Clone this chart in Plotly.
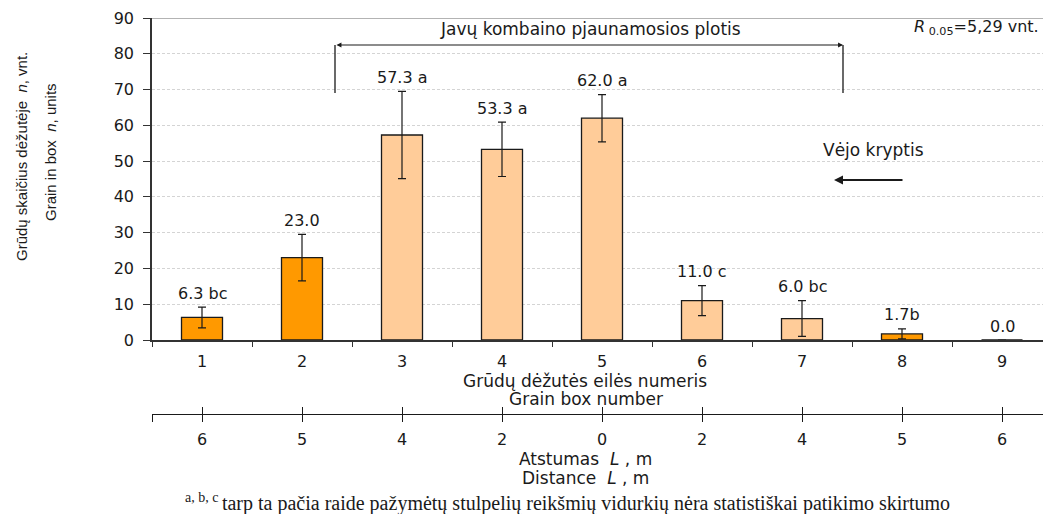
import plotly.graph_objects as go

# ---------------- data ----------------
boxes = ["1", "2", "3", "4", "5", "6", "7", "8", "9"]
grain_counts = [6.3, 23.0, 57.3, 53.3, 62.0, 11.0, 6.0, 1.7, 0.0]
errors = [2.9, 6.5, 12.2, 7.6, 6.6, 4.2, 5.0, 1.4, 0.0]
value_labels = ["6.3 bc", "23.0", "57.3 a", "53.3 a", "62.0 a", "11.0 c", "6.0 bc", "1.7b", "0.0"]
distances = ["6", "5", "4", "2", "0", "2", "4", "5", "6"]
bar_colors = ["#FF9900", "#FF9900", "#FFCC99", "#FFCC99", "#FFCC99",
              "#FFCC99", "#FFCC99", "#FF9900", "#FFCC99"]

# ---------------- layout geometry (pixels) ----------------
W, H = 1043, 514
ML, MR, MT, MB = 152, 0, 18, 60
PW, PH = W - ML - MR, H - MT - MB
ZERO_PX = 340  # pixel row of y = 0


def px(x):
    return (x - ML) / PW


def py(y):
    return (H - MB - y) / PH


FONT = "DejaVu Sans, Verdana, Arial, sans-serif"
NARROW = "Liberation Sans Narrow, Arial Narrow, Liberation Sans, Arial, sans-serif"
SERIF = "Liberation Serif, Times New Roman, serif"

fig = go.Figure()

fig.add_trace(go.Bar(
    x=boxes, y=grain_counts,
    width=0.41,
    marker=dict(color=bar_colors, line=dict(color="#1a1a1a", width=1.3)),
    error_y=dict(type="data", array=errors, visible=True,
                 color="#1a1a1a", thickness=1.2, width=4),
    showlegend=False, hoverinfo="x+y",
))

# hidden traces to carry the distance axis
idx = list(range(len(boxes)))
fig.add_trace(go.Scatter(x=idx, y=[None] * len(idx), xaxis="x2", yaxis="y",
                         mode="markers", showlegend=False, hoverinfo="skip"))
fig.add_trace(go.Scatter(x=idx, y=[None] * len(idx), xaxis="x3", yaxis="y",
                         mode="markers", showlegend=False, hoverinfo="skip"))

y_dom0 = py(ZERO_PX)
dist_pos = py(414)
xr = [-0.5, -0.5 + PW / 100.0]

fig.update_layout(
    width=W, height=H,
    margin=dict(l=ML, r=MR, t=MT, b=MB, pad=0),
    paper_bgcolor="white", plot_bgcolor="white",
    font=dict(family=FONT, size=16, color="#1a1a1a"),
    bargap=0.59,
    xaxis=dict(
        type="category", categoryorder="array", categoryarray=boxes,
        range=xr, anchor="y", tickson="boundaries",
        ticks="outside", ticklen=5, tickwidth=1.2, tickcolor="#333",
        showline=True, linecolor="#333", linewidth=1.5,
        showgrid=False, zeroline=False,
        tickfont=dict(family=FONT, size=16, color="#1a1a1a"),
        ticklabelstandoff=6,
    ),
    yaxis=dict(
        domain=[y_dom0, 1], range=[0, 90], dtick=10,
        ticks="outside", ticklen=7, tickwidth=1.2, tickcolor="#333",
        showline=True, linecolor="#333", linewidth=1.5,
        showgrid=True, gridcolor="#d4d4d4", gridwidth=1, griddash="3px,2px",
        zeroline=False,
        tickfont=dict(family=FONT, size=16, color="#1a1a1a"),
        ticklabelstandoff=6,
    ),
    xaxis2=dict(
        overlaying="x", anchor="free", position=dist_pos, side="bottom",
        range=xr, tickmode="array",
        tickvals=[-0.5] + idx, ticktext=[""] + distances,
        ticks="outside", ticklen=7, tickwidth=1.2, tickcolor="#1a1a1a",
        showline=True, linecolor="#1a1a1a", linewidth=1.3,
        showgrid=False, zeroline=False,
        tickfont=dict(family=FONT, size=16, color="#1a1a1a"),
        ticklabelstandoff=4,
    ),
    xaxis3=dict(
        overlaying="x", anchor="free", position=dist_pos, side="bottom",
        range=xr, tickmode="array",
        tickvals=[-0.5] + idx, ticktext=[""] * (len(idx) + 1),
        ticks="inside", ticklen=7, tickwidth=1.2, tickcolor="#1a1a1a",
        showline=False, showgrid=False, zeroline=False, showticklabels=False,
    ),
)

# top frame line at 90
fig.add_shape(type="line", xref="paper", yref="y", x0=0, x1=1, y0=90, y1=90,
              line=dict(color="#9a9a9a", width=1.5))

# value labels above error bars
for i, (v, e, lab) in enumerate(zip(grain_counts, errors, value_labels)):
    fig.add_annotation(x=i, y=v + e, text=lab, showarrow=False,
                       xanchor="center", yanchor="middle", yshift=14,
                       font=dict(family=FONT, size=16, color="#1a1a1a"))


def note(xp, yp, text, font=FONT, size=17, **kw):
    opts = dict(xanchor="center", yanchor="middle")
    opts.update(kw)
    fig.add_annotation(xref="paper", yref="paper", x=px(xp), y=py(yp),
                       text=text, showarrow=False,
                       font=dict(family=font, size=size, color="#1a1a1a"), **opts)


# cutting-width bracket
bx0, bx1 = px(335), px(843)
fig.add_shape(type="line", xref="paper", yref="paper", x0=bx0, x1=bx0,
              y0=py(93), y1=py(45), line=dict(color="#1a1a1a", width=1.3))
fig.add_shape(type="line", xref="paper", yref="paper", x0=bx1, x1=bx1,
              y0=py(93), y1=py(45), line=dict(color="#1a1a1a", width=1.3))
fig.add_annotation(xref="paper", yref="paper", x=bx1, y=py(45),
                   ax=-(843 - 335), ay=0,
                   text="", showarrow=True, arrowhead=2, arrowside="end+start",
                   arrowsize=0.9, arrowwidth=1.1, arrowcolor="#1a1a1a",
                   standoff=0, startstandoff=0)
note(590, 29, "Javų kombaino pjaunamosios plotis")

# wind direction
note(873, 150, "Vėjo kryptis")
fig.add_annotation(xref="paper", yref="paper", x=px(834), y=py(180),
                   ax=70, ay=0, text="", showarrow=True, arrowhead=2,
                   arrowsize=1, arrowwidth=1.8, arrowcolor="#1a1a1a",
                   standoff=0)

# LSD label
note(1041, 28, "<i>R</i><sub> 0.05</sub>=5,29 vnt.", size=16, xanchor="right")

# y-axis title (two rotated lines)
note(21, 157, "Grūdų skaičius dėžutėje\u00a0\u00a0<i>n</i>, vnt.",
     font=NARROW, size=15, textangle=-90)
note(50, 152, "Grain in box\u00a0\u00a0<i>n</i>, units",
     font=NARROW, size=15, textangle=-90)

# x-axis titles
note(585, 381, "Grūdų dėžutės eilės numeris")
note(586, 399, "Grain box number")
note(585, 459, "Atstumas\u00a0\u00a0<i>L</i> , m")
note(585, 478, "Distance\u00a0\u00a0<i>L</i> , m")

# footnote
note(567, 502, "<sup>a, b, c </sup>tarp ta pačia raide pažymėtų stulpelių "
               "reikšmių vidurkių nėra statistiškai patikimo skirtumo",
     font=SERIF, size=20)

fig.write_html("out.html",
               config={"displayModeBar": False},
               post_script="document.body.style.margin='0';"
                           "document.body.style.padding='0';")
